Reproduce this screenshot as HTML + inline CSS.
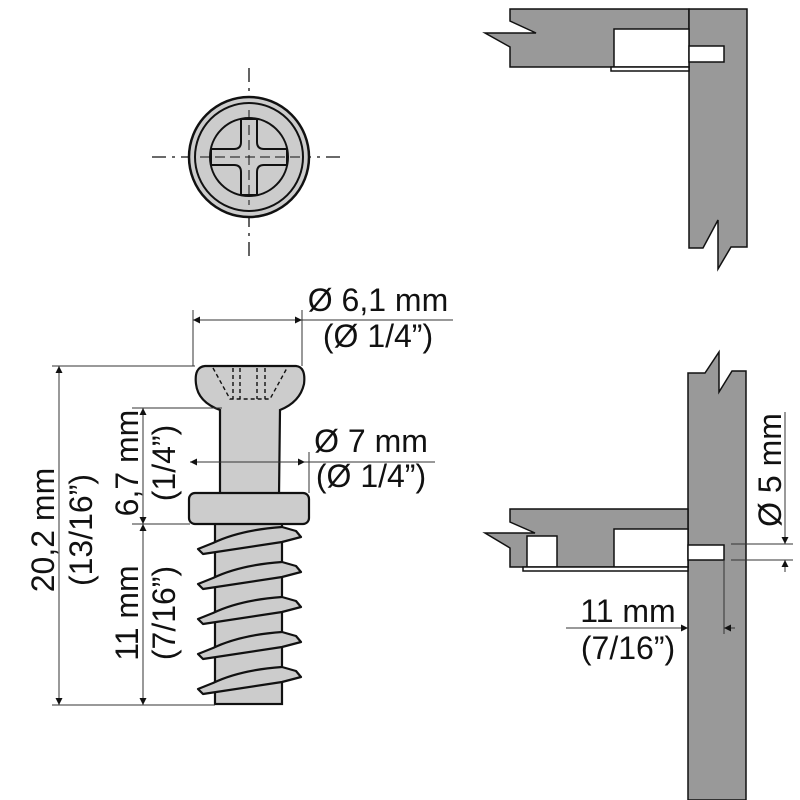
<!DOCTYPE html>
<html><head><meta charset="utf-8"><style>
html,body{margin:0;padding:0;background:#fff}
svg{display:block}
text{font-family:"Liberation Sans",sans-serif;fill:#111}
</style></head><body>
<svg width="800" height="800" viewBox="0 0 800 800" xmlns="http://www.w3.org/2000/svg">
<defs>
<marker id="a" viewBox="0 0 10 10" refX="10" refY="5" markerWidth="9" markerHeight="7" orient="auto-start-reverse" markerUnits="userSpaceOnUse"><path d="M0,0 L10,5 L0,10 Z" fill="#111"/></marker>
</defs>

<!-- top view -->
<g stroke="#111" stroke-width="1.3" stroke-dasharray="14,6,3,6" fill="none">
<line x1="152" y1="157" x2="345" y2="157"/>
<line x1="249" y1="68" x2="249" y2="256"/>
</g>
<circle cx="249" cy="157" r="60" fill="#ccc" stroke="#111" stroke-width="2.5"/>
<circle cx="249" cy="157" r="54" fill="#ccc" stroke="#111" stroke-width="2"/>
<circle cx="249" cy="157" r="39" fill="#ccc" stroke="#111" stroke-width="2"/>
<path d="M241,119 H257 V142 Q257,149 264,149 H287 V165 H264 Q257,165 257,172 V195 H241 V172 Q241,165 234,165 H211 V149 H234 Q241,149 241,142 Z" fill="#ccc" stroke="#111" stroke-width="2"/>
<g stroke="#111" stroke-width="1" stroke-dasharray="10,5" fill="none">
<line x1="200" y1="157" x2="300" y2="157"/><line x1="249" y1="110" x2="249" y2="205"/>
</g>

<!-- screw -->
<path d="M205,366 H296 Q306,367 304,384 Q300,402 280,410 L279,496 H220 L220,410 Q198,402 196,384 Q194,367 205,366 Z" fill="#ccc" stroke="#111" stroke-width="2.2"/>
<g stroke="#111" stroke-width="1.4" stroke-dasharray="4,3" fill="none">
<path d="M213,368 L230,399 H270 L287,368"/>
<line x1="233" y1="368" x2="233" y2="399"/><line x1="240" y1="368" x2="240" y2="399"/>
<line x1="257" y1="368" x2="257" y2="399"/><line x1="265" y1="368" x2="265" y2="399"/>
</g>
<rect x="215" y="520" width="67" height="184" fill="#ccc" stroke="#111" stroke-width="2.2"/>
<g fill="#ccc" stroke="#111" stroke-width="2.2" stroke-linejoin="round">
<path d="M213,543 L198,549 L203,554 L282,542 L301,537 L296,531 L282,527 Q240,530 213,543 Z"/>
<path d="M213,578 L198,584 L203,589 L282,577 L301,572 L296,566 L282,562 Q240,565 213,578 Z"/>
<path d="M213,613 L198,619 L203,624 L282,612 L301,607 L296,601 L282,597 Q240,600 213,613 Z"/>
<path d="M213,648 L198,654 L203,659 L282,647 L301,642 L296,636 L282,632 Q240,635 213,648 Z"/>
<path d="M213,683 L198,689 L203,694 L282,682 L301,677 L296,671 L282,667 Q240,670 213,683 Z"/>
</g>
<rect x="189" y="493" width="120" height="31" rx="6" fill="#ccc" stroke="#111" stroke-width="2.2"/>

<!-- screw dimensions -->
<g stroke="#333" stroke-width="1" fill="none">
<line x1="52" y1="366" x2="195" y2="366"/>
<line x1="52" y1="705" x2="215" y2="705"/>
<line x1="132" y1="408" x2="222" y2="408"/>
<line x1="132" y1="524" x2="190" y2="524"/>
<line x1="59" y1="366" x2="59" y2="705" marker-start="url(#a)" marker-end="url(#a)"/>
<line x1="143" y1="408" x2="143" y2="524" marker-start="url(#a)" marker-end="url(#a)"/>
<line x1="143" y1="524" x2="143" y2="705" marker-start="url(#a)" marker-end="url(#a)"/>
<line x1="193" y1="310" x2="193" y2="366"/>
<line x1="302" y1="310" x2="302" y2="366"/>
<line x1="193" y1="320" x2="302" y2="320" marker-start="url(#a)" marker-end="url(#a)"/>
<line x1="302" y1="320" x2="453" y2="320"/>
<line x1="309" y1="452" x2="309" y2="493"/>
<line x1="190" y1="462" x2="305" y2="462" marker-start="url(#a)" marker-end="url(#a)"/>
<line x1="305" y1="462" x2="435" y2="462"/>
</g>
<g font-size="32" text-anchor="middle">
<text x="378" y="311">Ø 6,1 mm</text>
<text x="378" y="347">(Ø 1/4”)</text>
<text x="371" y="452">Ø 7 mm</text>
<text x="371" y="487">(Ø 1/4”)</text>
<text transform="translate(54,530) rotate(-90)">20,2 mm</text>
<text transform="translate(92,530) rotate(-90)">(13/16”)</text>
<text transform="translate(138,463) rotate(-90)">6,7 mm</text>
<text transform="translate(175,463) rotate(-90)">(1/4”)</text>
<text transform="translate(138,613) rotate(-90)">11 mm</text>
<text transform="translate(175,613) rotate(-90)">(7/16”)</text>
</g>

<!-- top right panels -->
<g stroke="#111" stroke-width="1.5" stroke-linejoin="miter">
<path d="M510,9 H689 V67 H510 V47 L485,33 H536 L510,21 Z" fill="#999"/>
<path d="M689,9 H747 V247 H731 L718,269 V220 L703,248 H689 Z" fill="#999"/>
<rect x="614" y="29" width="75" height="38" fill="#fff"/>
<rect x="611" y="67" width="78" height="4" fill="#fff"/>
<rect x="689" y="46" width="35" height="16" fill="#fff"/>
</g>

<!-- bottom right panels -->
<g stroke="#111" stroke-width="1.5">
<path d="M688,373 H705 L719,352 V392 L732,371 H746 V800 H688 Z" fill="#999"/>
<path d="M510,509 H688 V567 H510 V548 L485,533 H535 L510,522 Z" fill="#999"/>
<rect x="527" y="536" width="30" height="31" fill="#fff"/>
<rect x="614" y="529" width="74" height="38" fill="#fff"/>
<rect x="523" y="567" width="165" height="4" fill="#fff"/>
<rect x="688" y="545" width="36" height="15" fill="#fff"/>
</g>
<g stroke="#333" stroke-width="1" fill="none">
<line x1="731" y1="544" x2="793" y2="544"/>
<line x1="731" y1="560" x2="793" y2="560"/>
<line x1="785" y1="412" x2="785" y2="544" marker-end="url(#a)"/>
<line x1="785" y1="572" x2="785" y2="560" marker-end="url(#a)"/>
<line x1="724" y1="560" x2="724" y2="634"/>
<line x1="566" y1="628" x2="688" y2="628" marker-end="url(#a)"/>
<line x1="735" y1="628" x2="724" y2="628" marker-end="url(#a)"/>
</g>
<g font-size="32" text-anchor="middle">
<text transform="translate(781,470) rotate(-90)">Ø 5 mm</text>
<text x="628" y="622">11 mm</text>
<text x="628" y="659">(7/16”)</text>
</g>
</svg>
</body></html>
